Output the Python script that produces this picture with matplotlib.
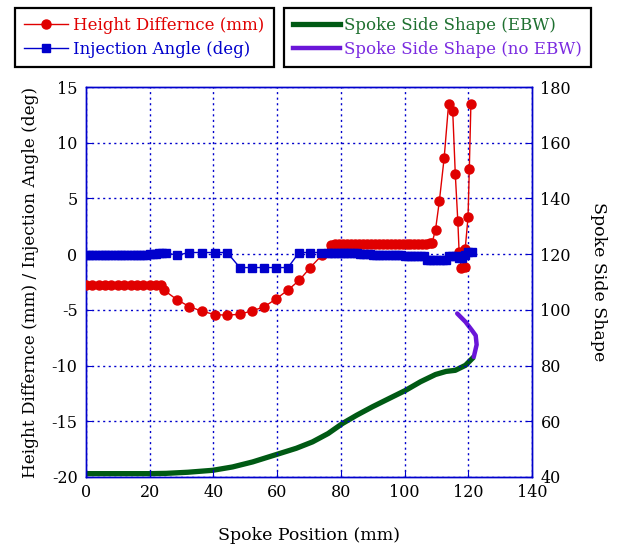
import matplotlib
matplotlib.use("Agg")
import matplotlib.pyplot as plt
from matplotlib.lines import Line2D

plt.rcParams['font.family'] = ['DejaVu Serif']
plt.rcParams['axes.unicode_minus'] = False

# Height difference (mm) - left axis
height_x = [0, 2, 4, 6, 8, 10, 12, 14, 16, 18, 20, 22, 23.7, 24.6, 28.5, 32.4, 36.4,
            40.4, 44.3, 48.2, 52.1, 55.9, 59.6, 63.4, 67.0, 70.4, 74.0,
            77.0, 78.3, 79.5, 80.8, 82.0, 83.2, 84.5, 85.7, 87.0, 88.2, 89.4, 90.7,
            91.9, 93.2, 94.4, 95.6, 96.9, 98.1, 99.4, 100.6, 101.8, 103.1, 104.3,
            105.6, 106.8, 108.0, 108.6,
            109.7, 110.9, 112.4, 113.8, 115.1, 115.9, 116.7, 117.1, 117.8, 118.8,
            119.0, 119.9, 120.3, 120.8]
height_y = [-2.8, -2.8, -2.8, -2.8, -2.8, -2.8, -2.8, -2.8, -2.8, -2.8, -2.8, -2.8, -2.8,
            -3.25, -4.07, -4.70, -5.12, -5.42, -5.48, -5.39, -5.09, -4.73, -4.03,
            -3.22, -2.33, -1.2, -0.1,
            0.85, 0.88, 0.88, 0.88, 0.88, 0.88, 0.88, 0.88, 0.88, 0.88, 0.88, 0.88,
            0.88, 0.88, 0.88, 0.88, 0.88, 0.88, 0.88, 0.88, 0.88, 0.9, 0.9,
            0.92, 0.95, 1.0, 1.0,
            2.2, 4.76, 8.62, 13.48, 12.82, 7.19, 2.94, 0.2, -1.2, -1.13,
            0.45, 3.32, 7.67, 13.48]

# Injection angle (deg) - left axis
angle_x = [0, 1, 2, 3, 4, 5, 6, 7, 8, 9, 10, 11, 12, 13, 14, 15, 16, 17, 18, 19, 20,
           21, 22, 23, 24, 25, 28.5, 32.4, 36.4, 40.4, 44.3, 48.3, 52.1, 56.0, 59.7,
           63.4, 66.9, 70.4, 73.9,
           76, 77, 78, 79, 80, 81, 82, 83, 84, 85, 86, 87, 88, 89, 90, 91, 92, 93,
           94, 95, 96, 97, 98, 99, 100, 101, 102, 103, 104, 105, 106, 107, 108,
           109, 110, 111, 112, 113, 114, 115, 116, 117, 118, 119, 120, 121]
angle_y = [-0.1, -0.1, -0.1, -0.1, -0.1, -0.1, -0.1, -0.1, -0.1, -0.1, -0.1, -0.1,
           -0.1, -0.1, -0.1, -0.1, -0.1, -0.1, -0.05, -0.05, 0.0, 0.0, 0.05, 0.15,
           0.15, 0.15, -0.1, 0.15, 0.15, 0.15, 0.15, -1.2, -1.2, -1.2, -1.2, -1.2,
           0.15, 0.15, 0.15,
           0.12, 0.12, 0.12, 0.12, 0.12, 0.12, 0.12, 0.1, 0.1, 0.1, 0.05, 0.05, 0.0,
           0.0, -0.03, -0.03, -0.03, -0.05, -0.05, -0.05, -0.03, -0.03, -0.05, -0.1,
           -0.15, -0.15, -0.15, -0.15, -0.15, -0.2, -0.2, -0.5, -0.55, -0.55, -0.55,
           -0.55, -0.55, -0.5, -0.2, -0.2, -0.2, -0.3, -0.3, -0.1, 0.2, 0.2]

# Spoke side shape - right axis
ebw_x = [0, 10, 20, 25.2, 32, 39.8, 46, 52.3, 60.7, 66, 71.1, 76, 80.5, 85, 89.9,
         95, 100.3, 105, 109.7, 113, 115.9, 119.1, 121.7]
ebw_y = [41.2, 41.2, 41.2, 41.3, 41.7, 42.4, 43.6, 45.4, 48.4, 50.3, 52.6, 55.6,
         59.2, 62.2, 65.2, 68.1, 71.1, 74.2, 76.8, 77.9, 78.3, 80.1, 83.1]
noebw_x = [121.7, 122.6, 122.3, 121.1, 119.1, 116.5]
noebw_y = [83.1, 87.5, 90.8, 92.7, 95.7, 98.7]

red = '#e00000'
blue = '#0000cc'
green = '#005a14'
purple = '#6a16d8'
frame = '#0000cc'

fig = plt.figure(figsize=(6.18, 5.48), dpi=100)
ax = fig.add_axes([0.139, 0.1296, 0.722, 0.7115])
ax2 = ax.twinx()

ax.plot(height_x, height_y, color=red, lw=1.0, marker='o', ms=6.5, mec=red, mfc=red, zorder=3)
ax.plot(angle_x, angle_y, color=blue, lw=1.0, marker='s', ms=6, mec=blue, mfc=blue, zorder=4)
ax2.plot(ebw_x, ebw_y, color=green, lw=3.8, solid_capstyle='butt')
ax2.plot(noebw_x, noebw_y, color=purple, lw=3.2, solid_capstyle='round')

ax.set_xlim(0, 140)
ax.set_ylim(-20, 15)
ax2.set_ylim(40, 180)
ax.set_xticks(range(0, 141, 20))
ax.set_yticks(range(-20, 16, 5))
ax2.set_yticks(range(40, 181, 20))
ax.set_zorder(ax2.get_zorder() + 1)
ax.patch.set_visible(False)

ax.grid(True, color=blue, linestyle=(0, (1.5, 2.5)), linewidth=1.0)
for a in (ax, ax2):
    for s in a.spines.values():
        s.set_color(frame)
        s.set_linewidth(1.0)
    a.tick_params(direction='in', color=frame, length=4, labelsize=11.5, labelcolor='black')
ax.tick_params(axis='x', pad=5)
ax.tick_params(axis='y', pad=6)
ax2.tick_params(axis='y', pad=6)

ax.set_xlabel('Spoke Position (mm)', fontsize=12.5, labelpad=19)
ax.set_ylabel('Height Differnce (mm) / Injection Angle (deg)', fontsize=12.2, labelpad=9)
ax2.set_ylabel('Spoke Side Shape', fontsize=12.5, rotation=270, labelpad=26)

legend_kw = dict(loc='upper left', fontsize=12, frameon=True, fancybox=False,
                 framealpha=1, borderaxespad=0, labelspacing=0.38, borderpad=0.55)

h1 = [Line2D([], [], color=red, lw=1.0, marker='o', ms=6.5),
      Line2D([], [], color=blue, lw=1.0, marker='s', ms=6)]
leg1 = fig.legend(h1, ['Height Differnce (mm)', 'Injection Angle (deg)'],
                  bbox_to_anchor=(15 / 618, 1 - 8 / 548), handlelength=2.6,
                  handletextpad=0.35, **legend_kw)
leg1.get_frame().set_edgecolor('black')
leg1.get_frame().set_linewidth(1.6)
for t, c in zip(leg1.get_texts(), [red, blue]):
    t.set_color(c)

h2 = [Line2D([], [], color=green, lw=3.8), Line2D([], [], color=purple, lw=3.2)]
leg2 = fig.legend(h2, ['Spoke Side Shape (EBW)', 'Spoke Side Shape (no EBW)'],
                  bbox_to_anchor=(284 / 618, 1 - 8 / 548), handlelength=2.8,
                  handletextpad=0.25, **legend_kw)
leg2.get_frame().set_edgecolor('black')
leg2.get_frame().set_linewidth(1.6)
for t, c in zip(leg2.get_texts(), ['#1e7030', '#7a2ae0']):
    t.set_color(c)

fig.savefig('out.png', dpi=100)
